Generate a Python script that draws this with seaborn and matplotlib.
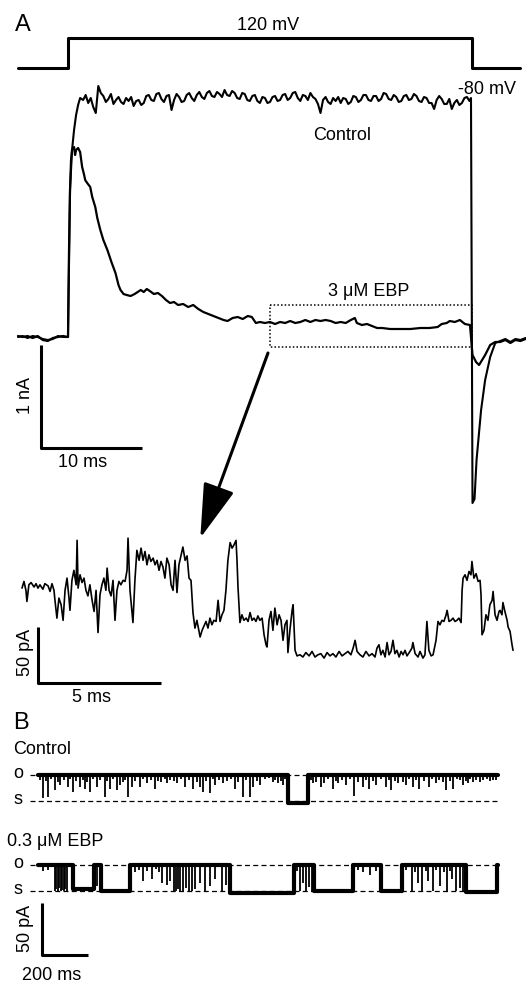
import numpy as np
import pandas as pd
import seaborn as sns
import matplotlib.pyplot as plt

W, H = 526, 984  # output size in px

# ---------------- data ----------------
# A: voltage protocol (ms, mV)
step_t = [-5.0, 0.0, 0.0, 40.0, 40.0, 44.8]
step_mv = [-80, -80, 120, 120, -80, -80]

# A: control current, before and during the rise (ms, nA)
ctrl_rise_t = [-4.95, -4.5, -4.0, -3.5, -3.0, -2.5, -2.0, -1.5, -1.0, -0.5, 0.0,
               0.1, 0.2, 0.4, 0.6, 0.8, 1.0, 1.2]
ctrl_rise_na = [0.00, 0.01, -0.01, 0.01, 0.00, -0.02, -0.03, -0.02, 0.01, 0.00,
                0.00, 0.77, 1.47, 1.87, 2.07, 2.22, 2.32, 2.39]
# A: control plateau at 120 mV
ctrl_plat_t = [1.5, 1.75, 2.0, 2.25, 2.5, 2.75, 3.0, 3.25,
               3.5, 3.75, 4.0, 4.25, 4.5, 4.75, 5.0, 5.25,
               5.5, 5.75, 6.0, 6.25, 6.5, 6.75, 7.0, 7.25,
               7.5, 7.75, 8.0, 8.25, 8.5, 8.75, 9.0, 9.25,
               9.5, 9.75, 10.0, 10.25, 10.5, 10.75, 11.0, 11.25,
               11.5, 11.75, 12.0, 12.25, 12.5, 12.75, 13.0, 13.25,
               13.5, 13.75, 14.0, 14.25, 14.5, 14.75, 15.0, 15.25,
               15.5, 15.75, 16.0, 16.25, 16.5, 16.75, 17.0, 17.25,
               17.5, 17.75, 18.0, 18.25, 18.5, 18.75, 19.0, 19.25,
               19.5, 19.75, 20.0, 20.25, 20.5, 20.75, 21.0, 21.25,
               21.5, 21.75, 22.0, 22.25, 22.5, 22.75, 23.0, 23.25,
               23.5, 23.75, 24.0, 24.25, 24.5, 24.75, 25.0, 25.25,
               25.5, 25.75, 26.0, 26.25, 26.5, 26.75, 27.0, 27.25,
               27.5, 27.75, 28.0, 28.25, 28.5, 28.75, 29.0, 29.25,
               29.5, 29.75, 30.0, 30.25, 30.5, 30.75, 31.0, 31.25,
               31.5, 31.75, 32.0, 32.25, 32.5, 32.75, 33.0, 33.25,
               33.5, 33.75, 34.0, 34.25, 34.5, 34.75, 35.0, 35.25,
               35.5, 35.75, 36.0, 36.25, 36.5, 36.75, 37.0, 37.25,
               37.5, 37.75, 38.0, 38.25, 38.5, 38.75, 39.0, 39.25,
               39.5, 39.75, 39.9]
ctrl_plat_na = [2.37, 2.42, 2.34, 2.39, 2.30, 2.24, 2.51, 2.44,
                2.41, 2.35, 2.38, 2.43, 2.33, 2.37, 2.40, 2.35,
                2.33, 2.39, 2.36, 2.40, 2.31, 2.36, 2.37, 2.32,
                2.34, 2.41, 2.42, 2.37, 2.36, 2.43, 2.44, 2.38,
                2.35, 2.41, 2.42, 2.27, 2.37, 2.43, 2.40, 2.35,
                2.36, 2.42, 2.44, 2.39, 2.36, 2.42, 2.45, 2.40,
                2.38, 2.44, 2.46, 2.41, 2.40, 2.45, 2.43, 2.40,
                2.47, 2.42, 2.41, 2.46, 2.44, 2.39, 2.38, 2.44,
                2.43, 2.37, 2.36, 2.41, 2.42, 2.36, 2.34, 2.40,
                2.39, 2.34, 2.35, 2.40, 2.41, 2.36, 2.37, 2.42,
                2.43, 2.37, 2.39, 2.44, 2.45, 2.39, 2.36, 2.42,
                2.41, 2.37, 2.44, 2.40, 2.38, 2.33, 2.24, 2.37,
                2.40, 2.35, 2.33, 2.39, 2.36, 2.40, 2.34, 2.39,
                2.38, 2.33, 2.35, 2.41, 2.40, 2.35, 2.37, 2.42,
                2.42, 2.37, 2.36, 2.41, 2.41, 2.36, 2.38, 2.44,
                2.43, 2.38, 2.37, 2.42, 2.40, 2.35, 2.36, 2.41,
                2.42, 2.37, 2.38, 2.43, 2.41, 2.36, 2.35, 2.40,
                2.39, 2.34, 2.34, 2.28, 2.37, 2.41, 2.38, 2.33,
                2.33, 2.38, 2.28, 2.34, 2.37, 2.32, 2.34, 2.39,
                2.40, 2.36, 2.39]
# A: control tail current back at -80 mV
ctrl_tail_t = [40.05, 40.25, 40.45, 40.9, 41.3, 41.8, 42.3, 42.8, 43.3, 43.8,
               44.3, 44.8, 45.3]
ctrl_tail_na = [-1.66, -1.62, -1.23, -0.73, -0.43, -0.20, -0.06, -0.04, -0.02,
                -0.05, -0.02, -0.03, -0.01]

# A: whole-cell current, 3 uM EBP (ms, nA)
ebp_t = [-4.95, -4.5, -4.0, -3.5, -3.0, -2.5, -2.0, -1.5, -1.0, -0.5, 0.0,
         0.1, 0.2, 0.3, 0.4, 0.6, 0.7, 0.8, 1.0, 1.2, 1.4, 1.6, 1.7, 1.9, 2.2,
         2.4, 2.7, 2.9, 3.2, 3.5, 3.9, 4.3, 4.7, 5.0, 5.2, 5.5, 5.8, 6.2, 6.6,
         6.9, 7.2, 7.5, 7.8, 8.1, 8.5, 8.9, 9.3, 9.7, 10.1, 10.5, 10.9, 11.4,
         11.9, 12.4, 12.9, 13.4, 13.9, 14.4, 14.9, 15.4, 15.8, 16.3, 16.8, 17.3,
         17.8, 18.2, 18.6, 19.0, 19.5, 20.0, 20.5, 21.0, 21.5, 22.0, 22.5, 23.0,
         23.5, 24.0, 24.5, 25.0, 25.5, 26.0, 26.5, 27.0, 27.5, 28.0, 28.4, 28.6,
         29.1, 29.6, 30.1, 30.6, 31.1, 31.9, 32.9, 33.9, 34.9, 35.8, 36.6, 37.0,
         37.5, 37.8, 38.3, 38.8, 39.3, 39.8, 40.05, 40.4, 40.7, 41.0, 41.3, 41.8,
         42.3, 42.8, 43.3, 43.8, 44.3, 44.8, 45.3]
ebp_na = [0.01, 0.00, 0.01, -0.01, 0.01, -0.03, -0.04, -0.01, 0.00, 0.01, 0.00,
          0.87, 1.47, 1.77, 1.87, 1.90, 1.82, 1.87, 1.89, 1.85, 1.70, 1.62, 1.57,
          1.54, 1.50, 1.40, 1.30, 1.19, 1.07, 0.97, 0.87, 0.75, 0.64, 0.52, 0.47,
          0.43, 0.42, 0.41, 0.43, 0.45, 0.47, 0.45, 0.48, 0.46, 0.43, 0.44, 0.41,
          0.37, 0.34, 0.35, 0.32, 0.33, 0.30, 0.32, 0.28, 0.25, 0.23, 0.21, 0.19,
          0.17, 0.16, 0.19, 0.20, 0.18, 0.21, 0.20, 0.14, 0.15, 0.14, 0.15, 0.13,
          0.15, 0.14, 0.16, 0.14, 0.15, 0.17, 0.15, 0.17, 0.16, 0.17, 0.16, 0.14,
          0.15, 0.14, 0.17, 0.19, 0.14, 0.12, 0.13, 0.11, 0.09, 0.09, 0.08, 0.08,
          0.08, 0.09, 0.09, 0.10, 0.13, 0.14, 0.16, 0.15, 0.17, 0.13, 0.12,
          -0.18, -0.25, -0.28, -0.23, -0.18, -0.08, -0.05, -0.05, -0.03, -0.06,
          -0.03, -0.04, -0.02]

# A: expanded segment of the EBP trace (ms from box start, pA)
zoom_t = [0.00, 0.08, 0.16, 0.20, 0.28, 0.37, 0.49, 0.57, 0.65, 0.73, 0.85, 0.93,
          1.06, 1.14, 1.22, 1.30, 1.34, 1.42, 1.50, 1.59, 1.67, 1.75, 1.83, 1.91,
          1.95, 2.03, 2.11, 2.20, 2.24, 2.28, 2.36, 2.44, 2.52, 2.60, 2.68, 2.76,
          2.85, 2.93, 3.01, 3.09, 3.17, 3.25, 3.33, 3.41, 3.46, 3.54, 3.62, 3.70,
          3.78, 3.86, 3.94, 4.02, 4.11, 4.19, 4.27, 4.31, 4.39, 4.51, 4.59, 4.67,
          4.76, 4.84, 4.92, 5.00, 5.08, 5.16, 5.24, 5.33, 5.41, 5.49, 5.57, 5.65,
          5.73, 5.81, 5.89, 5.98, 6.06, 6.14, 6.22, 6.30, 6.38, 6.46, 6.54, 6.63,
          6.71, 6.79, 6.87, 6.95, 7.03, 7.11, 7.24, 7.32, 7.40, 7.48, 7.56, 7.64,
          7.72, 7.80, 7.89, 7.97, 8.05, 8.13, 8.21, 8.29, 8.37, 8.46, 8.54, 8.62,
          8.70, 8.74, 8.78, 8.86, 8.94, 9.02, 9.11, 9.19, 9.27, 9.35, 9.43, 9.51,
          9.59, 9.67, 9.76, 9.84, 9.92, 9.96, 10.04, 10.12, 10.20, 10.28, 10.37,
          10.45, 10.53, 10.61, 10.69, 10.77, 10.81, 10.89, 10.98, 11.02, 11.10,
          11.18, 11.30, 11.42, 11.54, 11.67, 11.79, 11.91, 12.03, 12.15, 12.28,
          12.40, 12.52, 12.64, 12.76, 12.89, 13.01, 13.13, 13.25, 13.37, 13.46,
          13.54, 13.62, 13.74, 13.86, 13.98, 14.11, 14.23, 14.35, 14.43, 14.51,
          14.59, 14.67, 14.76, 14.84, 14.92, 15.00, 15.08, 15.16, 15.24, 15.33,
          15.41, 15.49, 15.57, 15.65, 15.77, 15.85, 15.89, 15.98, 16.10, 16.18,
          16.30, 16.38, 16.46, 16.54, 16.63, 16.71, 16.83, 16.91, 16.99, 17.07,
          17.15, 17.24, 17.28, 17.36, 17.44, 17.52, 17.60, 17.68, 17.76, 17.85,
          17.89, 17.93, 18.01, 18.09, 18.17, 18.25, 18.29, 18.37, 18.46, 18.54,
          18.62, 18.66, 18.70, 18.78, 18.86, 18.94, 19.02, 19.11, 19.15, 19.23,
          19.31, 19.39, 19.43, 19.51, 19.55, 19.63, 19.72, 19.76, 19.84, 19.92,
          19.96]
zoom_pa = [62, 68, 60, 50, 65, 67, 63, 66, 62, 65, 61, 66,
           64, 59, 66, 60, 51, 35, 53, 47, 33, 60, 71, 53,
           42, 69, 78, 65, 105, 62, 74, 67, 71, 60, 55, 65,
           51, 41, 60, 22, 56, 65, 71, 60, 80, 60, 55, 69,
           33, 60, 68, 65, 69, 68, 78, 107, 60, 31, 69, 96,
           87, 98, 87, 95, 83, 92, 86, 89, 83, 87, 78, 86,
           81, 71, 89, 83, 65, 60, 87, 58, 83, 91, 99, 87,
           91, 71, 69, 40, 26, 33, 18, 24, 28, 32, 26, 35,
           29, 33, 32, 51, 32, 38, 42, 60, 87, 103, 98, 101,
           105, 87, 63, 31, 38, 33, 35, 32, 40, 33, 35, 32,
           37, 33, 35, 20, 11, 9, 33, 41, 24, 44, 29,
           38, 33, 15, 29, 33, 4, 24, 42, 47, 6,
           1, 2, 0, 4, 1, 5, 0, 2, 3, -1,
           4, 1, 3, 0, 5, 1, 3, 5, 2, 8,
           15, 5, 2, 0, 5, 1, 3, 0, 8, 11,
           2, 6, 0, 13, 2, 5, 15, 3, 6, 0,
           5, 2, 6, 1, 5, 8, 13, 3, 0, 5,
           -1, 2, 32, 6, 1, 2, 15, 32, 29, 33,
           32, 38, 42, 32, 33, 35, 32, 33, 35, 31,
           60, 71, 74, 69, 77, 74, 86, 71, 75, 68,
           69, 56, 20, 24, 38, 33, 47, 51, 59, 38,
           33, 41, 42, 38, 49, 41, 33, 27, 23, 11,
           6]

# B: single channel, open level (pA above the "s" level)
OPEN_PA = 25
# B control: dwell edges (ms) and levels (pA), closures (ms, pA reached)
b_ctrl_edges = [0, 1087, 1174, 2000]
b_ctrl_levels = [OPEN_PA, -2, OPEN_PA]
b_ctrl_spike_t = [22, 44, 74, 96, 130, 152, 183, 204, 226, 257, 291, 313, 343,
                  357, 391, 409, 443, 474, 509, 561, 604, 639, 674, 704, 717,
                  748, 770, 804, 857, 891, 922, 935, 965, 1004, 1022, 1043,
                  1065, 1196, 1230, 1243, 1283, 1304, 1339, 1374, 1413, 1439,
                  1470, 1513, 1535, 1565, 1600, 1630, 1657, 1700, 1730, 1774,
                  1804, 1848, 1870, 1891, 1935, 1978]
b_ctrl_spike_pa = [3, 4, 11, 15, 13, 9, 13, 12, 9, 13, 4, 12, 11, 15, 4, 13, 13,
                   17, 12, 17, 17, 13, 12, 13, 9, 8, 15, 17, 12, 4, 4, 13, 15,
                   22, 18, 17, 15, 17, 13, 17, 12, 17, 15, 5, 13, 12, 15, 13, 11,
                   17, 15, 13, 12, 13, 17, 11, 12, 15, 17, 18, 20, 20]
b_ctrl_minor_t = [10, 33, 58, 85, 112, 140, 165, 195, 215, 240, 270, 300, 325,
                  370, 380, 420, 455, 490, 520, 535, 550, 575, 590, 620, 655,
                  690, 730, 760, 785, 820, 840, 870, 905, 950, 985, 1030, 1055,
                  1075, 1185, 1210, 1260, 1295, 1320, 1355, 1390, 1425, 1455,
                  1490, 1525, 1550, 1585, 1615, 1645, 1680, 1715, 1745, 1760,
                  1790, 1820, 1835, 1860, 1880, 1905, 1920, 1950, 1965, 1990]
b_ctrl_minor_pa = [20, 19, 21, 18, 20, 21, 19, 20, 18, 21, 20, 19, 21, 18, 20,
                   19, 21, 20, 19, 18, 21, 20, 19, 21, 20, 18, 19, 21, 20, 19,
                   21, 18, 20, 19, 21, 20, 19, 21, 20, 18, 21, 19, 20, 21, 18,
                   20, 19, 21, 20, 19, 18, 21, 20, 19, 21, 20, 18, 19, 21, 20,
                   19, 21, 20, 18, 21, 19, 20]
# B 0.3 uM EBP
b_ebp_edges = [0, 152, 243, 274, 400, 835, 1113, 1200, 1370, 1491, 1583, 1861,
               1995, 2000]
b_ebp_levels = [OPEN_PA, 2, OPEN_PA, 0, OPEN_PA, -2, OPEN_PA, 0, OPEN_PA, 0,
                OPEN_PA, -1, OPEN_PA]
b_ebp_spike_t = [74, 80, 87, 93, 100, 106, 113, 119, 126, 257, 457, 496, 539,
                 561, 574, 591, 600, 609, 617, 630, 643, 657, 670, 683, 704, 726,
                 748, 770, 800, 817, 1139, 1152, 1165, 1178, 1191, 1443, 1626,
                 1652, 1670, 1696, 1717, 1748, 1778, 1800, 1817, 1835, 1848]
b_ebp_spike_pa = [0, 2, 0, 3, 0, 1, 0, 2, 0, 5, 10, 12, 8, 6, 10, 0, 0, 2, 0, 0,
                  3, 0, 0, 2, 8, 0, 5, 12, 0, 6, 0, 8, 0, 4, 0, 15, 0, 8, 0, 10,
                  0, 5, 0, 12, 0, 3, 0]
b_ebp_minor_t = [20, 45, 420, 440, 475, 515, 525, 1125, 1390, 1415, 1470, 1600,
                 1640, 1685, 1730, 1765, 1790]
b_ebp_minor_pa = [19, 20, 18, 20, 19, 21, 18, 19, 20, 18, 19, 20, 18, 19, 20,
                  18, 19]

# ---------------- figure ----------------
sns.set_theme(style="white")
plt.rcParams['font.family'] = ['Liberation Sans', 'DejaVu Sans']
plt.rcParams['text.color'] = 'black'

fig = plt.figure(figsize=(W / 100, H / 100), dpi=100)
fig.patch.set_facecolor('white')


def layer(x0_px, sx, y0_px, sy):
    # full-figure axes: value 0 sits at pixel (x0_px, y0_px), sx/sy px per unit
    ax = fig.add_axes([0, 0, 1, 1])
    ax.set_xlim(-x0_px / sx, (W - x0_px) / sx)
    ax.set_ylim((y0_px - H) / sy, y0_px / sy)
    ax.axis('off')
    ax.patch.set_alpha(0)
    return ax


def label(x, y, s, size=13, **kw):
    kw.setdefault('ha', 'center')
    kw.setdefault('va', 'center')
    fig.text(x / W, 1 - y / H, s, fontsize=size, color='black', **kw)


def steps(edges, levels):
    xs, ys = [], []
    for a, b, lv in zip(edges[:-1], edges[1:], levels):
        xs += [a, b]
        ys += [lv, lv]
    return xs, ys


K = 'black'
DASH = (0, (4, 2.6))

# --- A: voltage
axV = layer(68, 10.1, 56, 0.15)
sns.lineplot(x=step_t, y=step_mv, estimator=None, sort=False, ax=axV,
             color=K, lw=2.2)

# --- A: currents
axA = layer(68, 10.1, 337, 100)
ctrl_t = ctrl_rise_t + ctrl_plat_t + ctrl_tail_t
ctrl_na = ctrl_rise_na + ctrl_plat_na + ctrl_tail_na
sns.lineplot(x=ctrl_t, y=ctrl_na, estimator=None, sort=False, ax=axA,
             color=K, lw=1.5)
sns.lineplot(x=ebp_t, y=ebp_na, estimator=None, sort=False, ax=axA,
             color=K, lw=1.6)
# dotted box around the expanded part
axA.plot([20, 40, 40, 20, 20], [0.32, 0.32, -0.10, -0.10, 0.32], color=K,
         lw=1.1, ls=(0, (1, 1.4)))
# arrow to the expanded trace
axA.annotate('', xy=(13.1, -2.01), xytext=(19.8, -0.16),
             arrowprops=dict(arrowstyle='-|>,head_length=3.4,head_width=1.0',
                             mutation_scale=10, lw=2.2, color=K,
                             shrinkA=0, shrinkB=0))
# scale bar 1 nA / 10 ms
axA.plot([-2.67, -2.67, 7.33], [-0.08, -1.11, -1.11], color=K, lw=2.2,
         solid_capstyle='butt')

# --- A: expanded trace
axZ = layer(22, 24.6, 657, 1.111)
sns.lineplot(x=zoom_t, y=zoom_pa, estimator=None, sort=False, ax=axZ,
             color=K, lw=1.2)
axZ.plot([0.65, 0.65, 5.65], [26.6, -23.4, -23.4], color=K, lw=2.2,
         solid_capstyle='butt')

# --- B: control
axB1 = layer(38, 0.23, 801, 1.04)
for lv in (OPEN_PA, 0):
    axB1.plot([-35, 2000], [lv, lv], color=K, lw=0.9, ls=DASH, zorder=1)
xs, ys = steps(b_ctrl_edges, b_ctrl_levels)
sns.lineplot(x=xs, y=ys, estimator=None, sort=False, ax=axB1, color=K, lw=3.0)
axB1.vlines(b_ctrl_spike_t, b_ctrl_spike_pa, OPEN_PA, color=K, lw=1.3)
axB1.vlines(b_ctrl_minor_t, b_ctrl_minor_pa, OPEN_PA + 2, color=K, lw=1.3)

# --- B: 0.3 uM EBP
axB2 = layer(38, 0.23, 891, 1.04)
for lv in (OPEN_PA, 0):
    axB2.plot([-35, 2000], [lv, lv], color=K, lw=0.9, ls=DASH, zorder=1)
xs, ys = steps(b_ebp_edges, b_ebp_levels)
sns.lineplot(x=xs, y=ys, estimator=None, sort=False, ax=axB2, color=K, lw=3.0)
axB2.vlines(b_ebp_spike_t, b_ebp_spike_pa, OPEN_PA, color=K, lw=1.3)
axB2.vlines(b_ebp_minor_t, b_ebp_minor_pa, OPEN_PA + 2, color=K, lw=1.3)
# scale bar 50 pA / 200 ms
axB2.plot([17, 17, 217], [-11.5, -61.5, -61.5], color=K, lw=2.2,
          solid_capstyle='butt')

# --- text
label(23, 25, 'A', size=17)
label(268, 25, '120 mV')
label(487, 90, '-80 mV')
label(342, 135, 'Control')
label(369, 292, '3 μM EBP')
label(25, 395, '1 nA', rotation=90)
label(83, 463, '10 ms')
label(25, 652, '50 pA', rotation=90)
label(92, 698, '5 ms')
label(21, 723, 'B', size=17)
label(13, 750, 'Control', ha='left')
label(18, 773, 'o')
label(18, 800, 's')
label(7, 842, '0.3 μM EBP', ha='left')
label(18, 864, 'o')
label(18, 890, 's')
label(25, 928, '50 pA', rotation=90)
label(52, 975, '200 ms')

fig.savefig('out.png', dpi=100, facecolor='white')
